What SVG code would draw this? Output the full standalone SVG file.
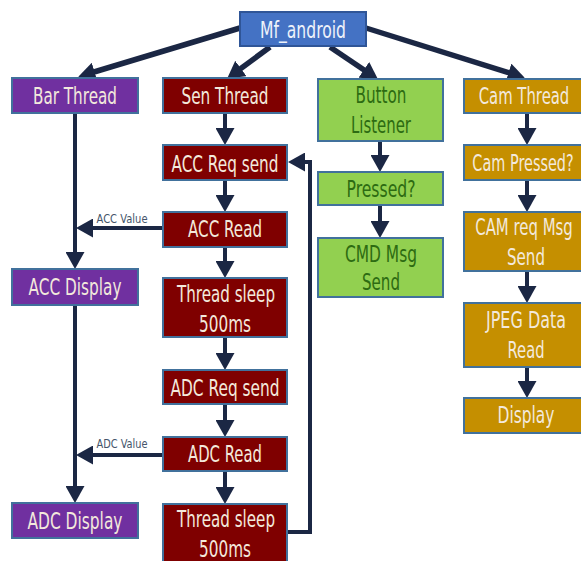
<svg xmlns="http://www.w3.org/2000/svg" width="581" height="561" viewBox="0 0 581 561">
<style>
.box{stroke:#41719C;stroke-width:2}
.blue{fill:#4472C4;stroke:#2F5597}
.pur{fill:#7030A0}
.red{fill:#7F0000}
.grn{fill:#92D050}
.gld{fill:#C58F00}
text{font-family:"DejaVu Sans",Verdana,sans-serif;font-size:23px;text-anchor:middle}
.lt{fill:#F3E9DC}
.dg{fill:#2D6B12}
.wt{fill:#EEF2FA}
.lbl{font-size:13px;fill:#44546A}
.c{fill:none;stroke:#1B2744;stroke-width:4}
.cd{fill:none;stroke:#1B2744;stroke-width:5.5}
</style>
<defs>
<marker id="ah" markerUnits="userSpaceOnUse" markerWidth="17" markerHeight="19" refX="11" refY="9.5" orient="auto">
<path d="M0,0 L17,9.5 L0,19 z" fill="#1B2744"/>
</marker>
</defs>
<g id="connectors">
<path class="cd" d="M240,28 L84,75" marker-end="url(#ah)"/>
<path class="cd" d="M270,47 L232,75" marker-end="url(#ah)"/>
<path class="cd" d="M330,47 L373,76" marker-end="url(#ah)"/>
<path class="cd" d="M366,28 L519,76" marker-end="url(#ah)"/>
<path class="c" d="M225,113 V139" marker-end="url(#ah)"/>
<path class="c" d="M225,180 V206" marker-end="url(#ah)"/>
<path class="c" d="M225,247 V272" marker-end="url(#ah)"/>
<path class="c" d="M225,337 V364" marker-end="url(#ah)"/>
<path class="c" d="M225,404 V431" marker-end="url(#ah)"/>
<path class="c" d="M225,471 V498" marker-end="url(#ah)"/>
<path class="c" d="M380,141 V166" marker-end="url(#ah)"/>
<path class="c" d="M380,205 V232" marker-end="url(#ah)"/>
<path class="c" d="M527,113 V139" marker-end="url(#ah)"/>
<path class="c" d="M527,180 V206" marker-end="url(#ah)"/>
<path class="c" d="M527,271 V297" marker-end="url(#ah)"/>
<path class="c" d="M527,367 V392" marker-end="url(#ah)"/>
<path class="c" d="M75,113 V263" marker-end="url(#ah)"/>
<path class="c" d="M75,305 V497" marker-end="url(#ah)"/>
<path class="c" d="M163,228 H82" marker-end="url(#ah)"/>
<path class="c" d="M163,455 H82" marker-end="url(#ah)"/>
<path class="c" d="M287,532 H310 V162 H294" marker-end="url(#ah)"/>
<text class="lbl" x="122" y="223" textLength="51" lengthAdjust="spacingAndGlyphs">ACC Value</text>
<text class="lbl" x="122" y="448" textLength="51" lengthAdjust="spacingAndGlyphs">ADC Value</text>
</g>
<g id="mf_android"><rect class="box blue" x="240" y="12" width="126" height="34"/><text class="wt" x="303" y="38" textLength="86" lengthAdjust="spacingAndGlyphs">Mf_android</text></g>
<g id="bar_thread"><rect class="box pur" x="12" y="78" width="126" height="35"/><text class="lt" x="75" y="104" textLength="84" lengthAdjust="spacingAndGlyphs">Bar Thread</text></g>
<g id="sen_thread"><rect class="box red" x="163" y="78" width="124" height="35"/><text class="lt" x="225" y="104" textLength="87" lengthAdjust="spacingAndGlyphs">Sen Thread</text></g>
<g id="button_listener"><rect class="box grn" x="318" y="79" width="125" height="62"/><text class="dg" x="381" y="103" textLength="51" lengthAdjust="spacingAndGlyphs">Button</text><text class="dg" x="381" y="133" textLength="60" lengthAdjust="spacingAndGlyphs">Listener</text></g>
<g id="cam_thread"><rect class="box gld" x="464" y="79" width="118" height="34"/><text class="lt" transform="translate(524,104) scale(0.646,1)">Cam Thread</text></g>
<g id="acc_req_send"><rect class="box red" x="163" y="145" width="124" height="35"/><text class="lt" x="225" y="172" textLength="107" lengthAdjust="spacingAndGlyphs">ACC Req send</text></g>
<g id="pressed"><rect class="box grn" x="318" y="172" width="125" height="33"/><text class="dg" x="381" y="197" textLength="69" lengthAdjust="spacingAndGlyphs">Pressed?</text></g>
<g id="cam_pressed"><rect class="box gld" x="464" y="145" width="118" height="35"/><text class="lt" transform="translate(523,171) scale(0.628,1)">Cam Pressed?</text></g>
<g id="acc_read"><rect class="box red" x="163" y="212" width="124" height="35"/><text class="lt" x="225" y="237" textLength="74" lengthAdjust="spacingAndGlyphs">ACC Read</text></g>
<g id="cmd_msg_send"><rect class="box grn" x="318" y="238" width="125" height="59"/><text class="dg" x="381" y="262" textLength="72" lengthAdjust="spacingAndGlyphs">CMD Msg</text><text class="dg" x="381" y="290" textLength="38" lengthAdjust="spacingAndGlyphs">Send</text></g>
<g id="cam_req_msg_send"><rect class="box gld" x="464" y="212" width="118" height="59"/><text class="lt" transform="translate(524,235) scale(0.649,1)">CAM req Msg</text><text class="lt" x="526" y="265" textLength="38" lengthAdjust="spacingAndGlyphs">Send</text></g>
<g id="acc_display"><rect class="box pur" x="12" y="269" width="126" height="36"/><text class="lt" x="75" y="295" textLength="93" lengthAdjust="spacingAndGlyphs">ACC Display</text></g>
<g id="thread_sleep_1"><rect class="box red" x="163" y="278" width="124" height="59"/><text class="lt" x="226" y="302" textLength="98" lengthAdjust="spacingAndGlyphs">Thread sleep</text><text class="lt" x="225" y="332" textLength="52" lengthAdjust="spacingAndGlyphs">500ms</text></g>
<g id="jpeg_data_read"><rect class="box gld" x="464" y="303" width="118" height="64"/><text class="lt" transform="translate(526,328) scale(0.694,1)">JPEG Data</text><text class="lt" x="526" y="358" textLength="37" lengthAdjust="spacingAndGlyphs">Read</text></g>
<g id="adc_req_send"><rect class="box red" x="163" y="370" width="124" height="34"/><text class="lt" x="225" y="396" textLength="109" lengthAdjust="spacingAndGlyphs">ADC Req send</text></g>
<g id="display"><rect class="box gld" x="464" y="398" width="118" height="35"/><text class="lt" x="526" y="423" textLength="57" lengthAdjust="spacingAndGlyphs">Display</text></g>
<g id="adc_read"><rect class="box red" x="163" y="437" width="124" height="34"/><text class="lt" x="225" y="462" textLength="74" lengthAdjust="spacingAndGlyphs">ADC Read</text></g>
<g id="adc_display"><rect class="box pur" x="12" y="503" width="126" height="35"/><text class="lt" x="75" y="529" textLength="95" lengthAdjust="spacingAndGlyphs">ADC Display</text></g>
<g id="thread_sleep_2"><rect class="box red" x="163" y="504" width="124" height="60"/><text class="lt" x="226" y="527" textLength="98" lengthAdjust="spacingAndGlyphs">Thread sleep</text><text class="lt" x="225" y="557" textLength="52" lengthAdjust="spacingAndGlyphs">500ms</text></g>
</svg>
